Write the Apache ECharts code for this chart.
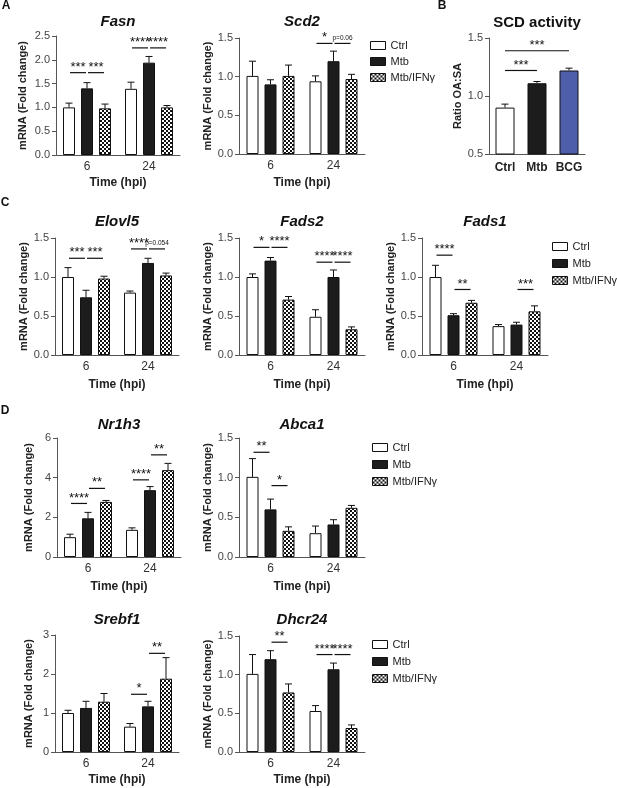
<!DOCTYPE html>
<html>
<head>
<meta charset="utf-8">
<title>Lipid metabolism gene expression</title>
<script src="https://cdn.jsdelivr.net/npm/echarts@6/dist/echarts.min.js"></script>
<style>
  html, body { margin: 0; background: #fff; }
  #chart { width: 617px; height: 788px; }
</style>
</head>
<body>
<div id="chart"></div>
<script>
// groups and time points
const groups = ['Ctrl', 'Mtb', 'Mtb/IFNγ'];
const timepoints = ['6', '24'];
const scdGroups = ['Ctrl', 'Mtb', 'BCG'];

// means: one row per group (Ctrl, Mtb, Mtb/IFNγ), one column per time point
// err: upper SEM, same shape
// sig: [time index, from bar, to bar, line height, label]
const fasnMean = [[1.00, 1.39], [1.40, 1.94], [0.98, 1.00]];
const fasnErr = [[0.09, 0.14], [0.12, 0.13], [0.09, 0.04]];
const fasnSig = [[0, 0, 1, 1.73, '***'], [0, 1, 2, 1.73, '***'], [1, 0, 1, 2.25, '****'], [1, 1, 2, 2.25, '****']];

const scd2Mean = [[1.01, 0.94], [0.90, 1.20], [1.01, 0.97]];
const scd2Err = [[0.19, 0.07], [0.06, 0.13], [0.14, 0.06]];
const scd2Sig = [[1, 0, 1, 1.43, '*'], [1, 1, 2, 1.43, 'p=0.06']];

const scdMean = [0.90, 1.11, 1.22];
const scdErr = [0.03, 0.015, 0.02];
const scdSig = [[0, 0, 1, 1.22, '***'], [0, 0, 2, 1.39, '***']];

const elovl5Mean = [[1.00, 0.80], [0.74, 1.18], [0.98, 1.02]];
const elovl5Err = [[0.12, 0.02], [0.09, 0.06], [0.03, 0.03]];
const elovl5Sig = [[0, 0, 1, 1.24, '***'], [0, 1, 2, 1.24, '***'], [1, 0, 1, 1.36, '****'], [1, 1, 2, 1.36, 'p=0.054']];

const fads2Mean = [[1.00, 0.49], [1.21, 1.00], [0.71, 0.33]];
const fads2Err = [[0.04, 0.09], [0.04, 0.09], [0.04, 0.03]];
const fads2Sig = [[0, 0, 1, 1.38, '*'], [0, 1, 2, 1.38, '****'], [1, 0, 1, 1.19, '****'], [1, 1, 2, 1.19, '****']];

const fads1Mean = [[1.00, 0.37], [0.51, 0.39], [0.67, 0.56]];
const fads1Err = [[0.15, 0.02], [0.02, 0.03], [0.03, 0.07]];
const fads1Sig = [[0, 0, 1, 1.28, '****'], [0, 1, 2, 0.84, '**'], [1, 1, 2, 0.84, '***']];

const nr1h3Mean = [[1.00, 1.37], [1.95, 3.37], [2.78, 4.38]];
const nr1h3Err = [[0.15, 0.10], [0.30, 0.18], [0.07, 0.34]];
const nr1h3Sig = [[0, 0, 1, 2.70, '****'], [0, 1, 2, 3.46, '**'], [1, 0, 1, 3.89, '****'], [1, 1, 2, 5.15, '**']];

const abca1Mean = [[1.01, 0.30], [0.60, 0.41], [0.33, 0.62]];
const abca1Err = [[0.23, 0.09], [0.13, 0.06], [0.05, 0.03]];
const abca1Sig = [[0, 0, 1, 1.32, '**'], [0, 1, 2, 0.90, '*']];

const srebf1Mean = [[1.00, 0.65], [1.13, 1.17], [1.29, 1.88]];
const srebf1Err = [[0.07, 0.08], [0.17, 0.13], [0.21, 0.54]];
const srebf1Sig = [[1, 0, 1, 1.48, '*'], [1, 1, 2, 2.53, '**']];

const dhcr24Mean = [[1.01, 0.53], [1.20, 1.07], [0.77, 0.31]];
const dhcr24Err = [[0.25, 0.07], [0.11, 0.08], [0.11, 0.04]];
const dhcr24Sig = [[0, 1, 2, 1.42, '**'], [1, 0, 1, 1.26, '****'], [1, 1, 2, 1.26, '****']];

const FONT = '"Liberation Sans", Arial, Helvetica, sans-serif';
const INK = '#111';
const AXIS = '#555';
const BAR_W = 12;
const PITCH = 18; // bar width + gap

// checkered fill for Mtb/IFNγ
const checker = document.createElement('canvas');
checker.width = 4;
checker.height = 4;
const cg = checker.getContext('2d');
cg.fillStyle = '#fff';
cg.fillRect(0, 0, 4, 4);
cg.fillStyle = '#111';
cg.fillRect(0, 0, 2, 2);
cg.fillRect(2, 2, 2, 2);

const barStyles = [
  { color: '#ffffff', borderColor: INK, borderWidth: 1 },
  { color: '#1c1c1c', borderColor: INK, borderWidth: 1 },
  { color: { image: checker, repeat: 'repeat' }, borderColor: INK, borderWidth: 1 }
];
const scdStyles = [
  { color: '#ffffff', borderColor: INK, borderWidth: 1 },
  { color: '#1c1c1c', borderColor: INK, borderWidth: 1 },
  { color: '#4f5eab', borderColor: INK, borderWidth: 1 }
];

const panels = [
  { title: 'Fasn', mean: fasnMean, err: fasnErr, sig: fasnSig, max: 2.5, step: 0.5, dec: 1,
    left: 56, top: 36, width: 124, height: 119, titleY: 22, yGap: 28, xGap: 22 },
  { title: 'Scd2', mean: scd2Mean, err: scd2Err, sig: scd2Sig, max: 1.5, step: 0.5, dec: 1,
    left: 239, top: 38, width: 126, height: 116, titleY: 22, yGap: 23, xGap: 23 },
  { title: 'Elovl5', mean: elovl5Mean, err: elovl5Err, sig: elovl5Sig, max: 1.5, step: 0.5, dec: 1,
    left: 55, top: 238, width: 124, height: 117, titleY: 222, yGap: 24, xGap: 24 },
  { title: 'Fads2', mean: fads2Mean, err: fads2Err, sig: fads2Sig, max: 1.5, step: 0.5, dec: 1,
    left: 239, top: 238, width: 126, height: 117, titleY: 222, yGap: 23, xGap: 24 },
  { title: 'Fads1', mean: fads1Mean, err: fads1Err, sig: fads1Sig, max: 1.5, step: 0.5, dec: 1,
    left: 422, top: 238, width: 126, height: 117, titleY: 222, yGap: 21, xGap: 24 },
  { title: 'Nr1h3', mean: nr1h3Mean, err: nr1h3Err, sig: nr1h3Sig, max: 6, step: 2, dec: 0,
    left: 57, top: 438, width: 124, height: 119, titleY: 425, yGap: 23, xGap: 24 },
  { title: 'Abca1', mean: abca1Mean, err: abca1Err, sig: abca1Sig, max: 1.5, step: 0.5, dec: 1,
    left: 239, top: 438, width: 126, height: 119, titleY: 425, yGap: 23, xGap: 24 },
  { title: 'Srebf1', mean: srebf1Mean, err: srebf1Err, sig: srebf1Sig, max: 3, step: 1, dec: 0,
    left: 55, top: 635, width: 124, height: 117, titleY: 620, yGap: 21, xGap: 22 },
  { title: 'Dhcr24', mean: dhcr24Mean, err: dhcr24Err, sig: dhcr24Sig, max: 1.5, step: 0.5, dec: 1,
    left: 239, top: 636, width: 126, height: 116, titleY: 620, yGap: 23, xGap: 22 }
];

function textEl(x, y, text, font) {
  return {
    type: 'text', x: x, y: y, silent: true,
    style: { text: text, font: font, fill: INK, textAlign: 'center', textVerticalAlign: 'middle',
      align: 'center', verticalAlign: 'middle' }
  };
}

// upper-only error bars
function errorSeries(i, rows, n) {
  return {
    type: 'custom', xAxisIndex: i, yAxisIndex: i, data: rows, z: 1, silent: true, clip: false,
    renderItem: (params, api) => {
      const off = (api.value(1) - (n - 1) / 2) * PITCH;
      const lo = api.coord([api.value(0), api.value(2)]);
      const hi = api.coord([api.value(0), api.value(3)]);
      const x = lo[0] + off;
      return {
        type: 'group',
        children: [
          { type: 'line', shape: { x1: x, y1: lo[1], x2: x, y2: hi[1] }, style: { stroke: INK, lineWidth: 1 } },
          { type: 'line', shape: { x1: x - 3.5, y1: hi[1], x2: x + 3.5, y2: hi[1] }, style: { stroke: INK, lineWidth: 1 } }
        ]
      };
    }
  };
}

// significance lines with labels
function sigSeries(i, sig, n, pitch) {
  return {
    type: 'custom', xAxisIndex: i, yAxisIndex: i, z: 4, silent: true, clip: false,
    data: sig.map((s) => [s[0], s[3]]),
    renderItem: (params, api) => {
      const s = sig[params.dataIndex];
      const p = api.coord([s[0], s[3]]);
      const x1 = p[0] + (s[1] - (n - 1) / 2) * pitch + 1;
      const x2 = p[0] + (s[2] - (n - 1) / 2) * pitch - 1;
      const small = s[4].indexOf('p=') === 0;
      return {
        type: 'group',
        children: [
          { type: 'line', shape: { x1: x1, y1: p[1], x2: x2, y2: p[1] }, style: { stroke: INK, lineWidth: 1.2 } },
          {
            type: 'text',
            style: {
              text: s[4], x: (x1 + x2) / 2, y: small ? p[1] - 2 : p[1] + 1,
              font: small ? '6.5px ' + FONT : '13px ' + FONT, fill: INK,
              textAlign: 'center', textVerticalAlign: 'bottom', align: 'center', verticalAlign: 'bottom'
            }
          }
        ]
      };
    }
  };
}

function valueAxis(i, min, max, step, dec, name, gap) {
  return {
    type: 'value', gridIndex: i, min: min, max: max, interval: step,
    name: name, nameLocation: 'middle', nameGap: gap,
    nameTextStyle: { fontFamily: FONT, fontWeight: 'bold', fontSize: 11, color: '#222' },
    splitLine: { show: false },
    axisLine: { show: true, lineStyle: { color: AXIS, width: 1 } },
    axisTick: { show: true, length: 4, lineStyle: { color: AXIS } },
    axisLabel: { margin: 6, fontFamily: FONT, fontSize: 11, color: '#444',
      formatter: (v) => v.toFixed(dec) }
  };
}

const option = {
  animation: false,
  backgroundColor: '#fff',
  textStyle: { fontFamily: FONT },
  grid: [], xAxis: [], yAxis: [], series: [], legend: [], graphic: []
};

panels.forEach((p, i) => {
  option.grid.push({ left: p.left, top: p.top, width: p.width, height: p.height });
  option.xAxis.push({
    type: 'category', gridIndex: i, data: timepoints,
    name: 'Time (hpi)', nameLocation: 'middle', nameGap: p.xGap,
    nameTextStyle: { fontFamily: FONT, fontWeight: 'bold', fontSize: 12, color: '#222' },
    axisLine: { lineStyle: { color: AXIS, width: 1 } },
    axisTick: { alignWithLabel: true, length: 4, lineStyle: { color: AXIS } },
    axisLabel: { margin: 6, interval: 0, fontFamily: FONT, fontSize: 12, color: '#333' }
  });
  option.yAxis.push(valueAxis(i, 0, p.max, p.step, p.dec, 'mRNA (Fold change)', p.yGap));
  groups.forEach((g, k) => {
    option.series.push({
      type: 'bar', name: g, xAxisIndex: i, yAxisIndex: i, data: p.mean[k],
      barWidth: BAR_W, barGap: '50%', itemStyle: barStyles[k], silent: true
    });
  });
  const rows = [];
  p.mean.forEach((row, k) => row.forEach((m, c) => rows.push([c, k, m, m + p.err[k][c]])));
  option.series.push(errorSeries(i, rows, 3));
  option.series.push(sigSeries(i, p.sig, 3, PITCH));
  option.graphic.push(textEl(p.left + p.width / 2, p.titleY, p.title, 'italic bold 15px ' + FONT));
});

// panel B: SCD activity
const bi = panels.length;
option.grid.push({ left: 489, top: 38, width: 96, height: 116 });
option.xAxis.push({
  type: 'category', gridIndex: bi, data: scdGroups,
  axisLine: { lineStyle: { color: AXIS, width: 1 } },
  axisTick: { alignWithLabel: true, interval: 0, length: 4, lineStyle: { color: AXIS } },
  axisLabel: { margin: 8, interval: 0, fontFamily: FONT, fontSize: 12, fontWeight: 'bold', color: '#222' }
});
option.yAxis.push(valueAxis(bi, 0.5, 1.5, 0.5, 1, 'Ratio OA:SA', 25));
option.series.push({
  type: 'bar', name: 'SCD activity', xAxisIndex: bi, yAxisIndex: bi, barWidth: 19, silent: true,
  data: scdMean.map((v, k) => ({ value: v, itemStyle: scdStyles[k] }))
});
option.series.push(errorSeries(bi, scdMean.map((m, c) => [c, 0, m, m + scdErr[c]]), 1));
option.series.push({
  type: 'custom', xAxisIndex: bi, yAxisIndex: bi, z: 4, silent: true, clip: false,
  data: scdSig.map((s) => [s[1], s[3]]),
  renderItem: (params, api) => {
    const s = scdSig[params.dataIndex];
    const a = api.coord([s[1], s[3]]);
    const b = api.coord([s[2], s[3]]);
    return {
      type: 'group',
      children: [
        { type: 'line', shape: { x1: a[0], y1: a[1], x2: b[0], y2: b[1] }, style: { stroke: INK, lineWidth: 1.2 } },
        { type: 'text', style: { text: s[4], x: (a[0] + b[0]) / 2, y: a[1] + 1, font: '13px ' + FONT, fill: INK,
          textAlign: 'center', textVerticalAlign: 'bottom', align: 'center', verticalAlign: 'bottom' } }
      ]
    };
  }
});
option.graphic.push(textEl(537, 23, 'SCD activity', 'bold 15px ' + FONT));

// panel letters
[['A', 6, 6], ['B', 442, 6], ['C', 5, 203], ['D', 5, 411]].forEach((l) => {
  option.graphic.push(textEl(l[1], l[2], l[0], 'bold 12px ' + FONT));
});

// legends
[[370, 39, 3], [552, 240, 4], [372, 441, 4], [372, 638, 4]].forEach((l) => {
  option.legend.push({
    data: groups, orient: 'vertical', left: l[0], top: l[1], padding: 0, itemGap: l[2],
    itemWidth: 15, itemHeight: 8, icon: 'rect', selectedMode: false,
    itemStyle: { borderWidth: 1 },
    textStyle: { fontFamily: FONT, fontSize: 11, color: '#222', lineHeight: 13 }
  });
});

const myChart = echarts.init(document.getElementById('chart'));
myChart.setOption(option);
</script>
</body>
</html>
